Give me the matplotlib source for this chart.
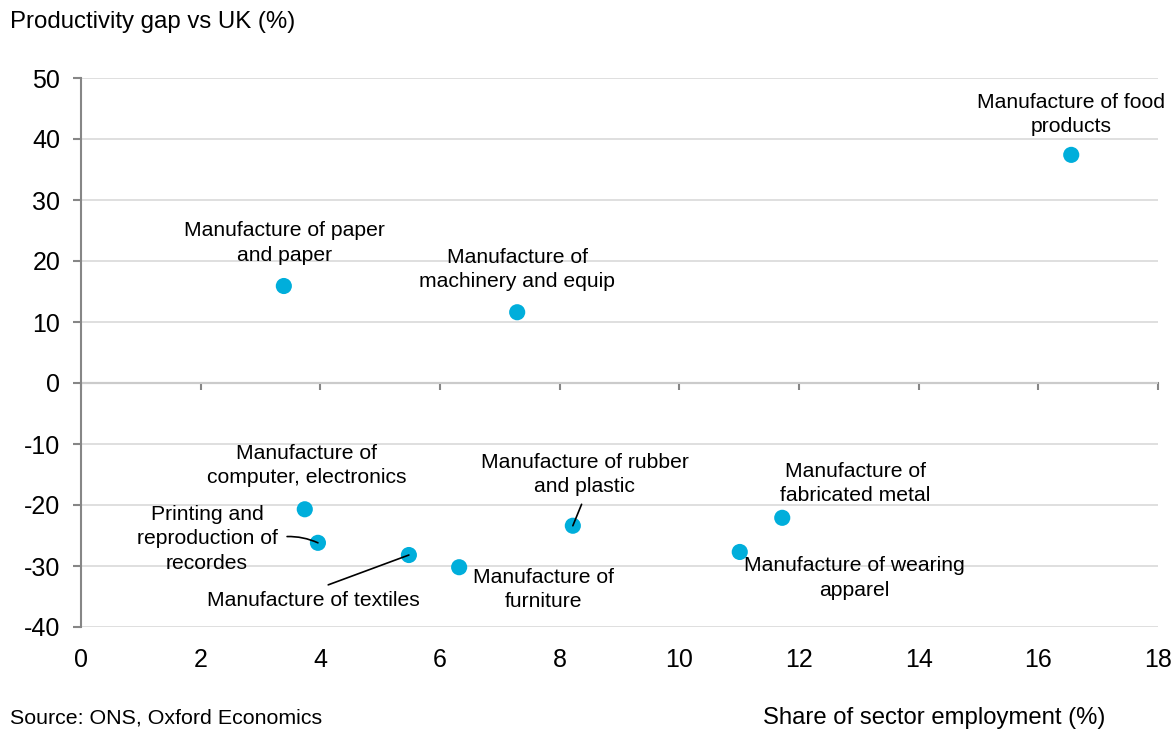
import matplotlib
matplotlib.use("Agg")
import matplotlib.pyplot as plt

plt.rcParams['font.family'] = ['Liberation Sans', 'DejaVu Sans']

# Sector data: share of employment (%) and productivity gap vs UK (%)
sectors = [
    "Manufacture of food\nproducts",
    "Manufacture of paper\nand paper",
    "Manufacture of\nmachinery and equip",
    "Manufacture of\ncomputer, electronics",
    "Printing and\nreproduction of\nrecordes",
    "Manufacture of textiles",
    "Manufacture of\nfurniture",
    "Manufacture of rubber\nand plastic",
    "Manufacture of\nfabricated metal",
    "Manufacture of wearing\napparel",
]
employment_share = [16.55, 3.39, 7.29, 3.74, 3.96, 5.48, 6.32, 8.22, 11.72, 11.01]
productivity_gap = [37.4, 15.9, 11.6, -20.7, -26.2, -28.2, -30.2, -23.4, -22.1, -27.7]

x_ticks = [0, 2, 4, 6, 8, 10, 12, 14, 16, 18]
y_ticks = [-40, -30, -20, -10, 0, 10, 20, 30, 40, 50]

# Label placement (offset in pixels from each point) and leader-line settings
label_offsets = [(0, 40), (1, 43), (0, 43), (2, 44), (-111, 4),
                 (-96, -45), (84, -22), (12, 51), (73, 34), (115, -26)]
leaders = {
    4: dict(arrowstyle='-', color='black', lw=1.2, relpos=(1.0, 0.52),
            shrinkA=5, shrinkB=0, connectionstyle='arc3,rad=-0.15'),
    5: dict(arrowstyle='-', color='black', lw=1.2, relpos=(0.5, 1.0),
            shrinkA=6, shrinkB=0),
    7: dict(arrowstyle='-', color='black', lw=1.2, relpos=(0.5, 0.0),
            shrinkA=4, shrinkB=0),
}

POINT_COLOR = '#00AEDB'
AXIS_GREY = '#868686'
GRID_GREY = '#D9D9D9'

fig = plt.figure(figsize=(11.73, 7.32), dpi=100)
ax = fig.add_axes([81 / 1173, 1 - 627 / 732, (1158 - 81) / 1173, (627 - 78) / 732])

ax.scatter(employment_share, productivity_gap, s=135, color=POINT_COLOR,
           edgecolors='none', zorder=2)

for i, name in enumerate(sectors):
    kw = {}
    if i in leaders:
        kw['arrowprops'] = leaders[i]
    ax.annotate(name, (employment_share[i], productivity_gap[i]),
                xytext=label_offsets[i], textcoords='offset pixels',
                ha='center', va='center', fontsize=15.2, linespacing=1.35,
                color='black', zorder=4, **kw)

ax.set_xlim(x_ticks[0], x_ticks[-1])
ax.set_ylim(y_ticks[0], y_ticks[-1])
ax.set_yticks(y_ticks)
ax.set_xticks(x_ticks)
ax.set_xticklabels([str(t) for t in x_ticks])
ax.set_yticklabels([str(t) for t in y_ticks])

# Horizontal gridlines only
ax.yaxis.grid(True, color=GRID_GREY, lw=1.2, zorder=0)
ax.set_axisbelow(True)

for side in ['top', 'right', 'bottom']:
    ax.spines[side].set_visible(False)
ax.spines['left'].set_color(AXIS_GREY)
ax.spines['left'].set_linewidth(1.5)

ax.tick_params(axis='y', direction='out', length=6, width=1.5, color=AXIS_GREY,
               labelsize=18, pad=9, labelcolor='black')
ax.tick_params(axis='x', length=0, labelsize=18, pad=15, labelcolor='black')

# Zero line with its own tick marks, acting as the horizontal axis
zero_frac = (0 - y_ticks[0]) / (y_ticks[-1] - y_ticks[0])
sec = ax.secondary_xaxis(zero_frac)
sec.set_xticks(x_ticks)
sec.set_xticklabels([])
sec.spines['bottom'].set_color(AXIS_GREY)
sec.spines['bottom'].set_linewidth(1.5)
sec.tick_params(axis='x', direction='out', length=5, width=1.5, color=AXIS_GREY)

fig.text(10 / 1173, 1 - 22 / 732, "Productivity gap vs UK (%)", fontsize=17.3,
         ha='left', va='center')
fig.text(10 / 1173, 1 - 718 / 732, "Source: ONS, Oxford Economics", fontsize=15.4,
         ha='left', va='center')
fig.text(1105 / 1173, 1 - 718 / 732, "Share of sector employment (%)", fontsize=17.2,
         ha='right', va='center')

fig.savefig("out.png", dpi=100)
